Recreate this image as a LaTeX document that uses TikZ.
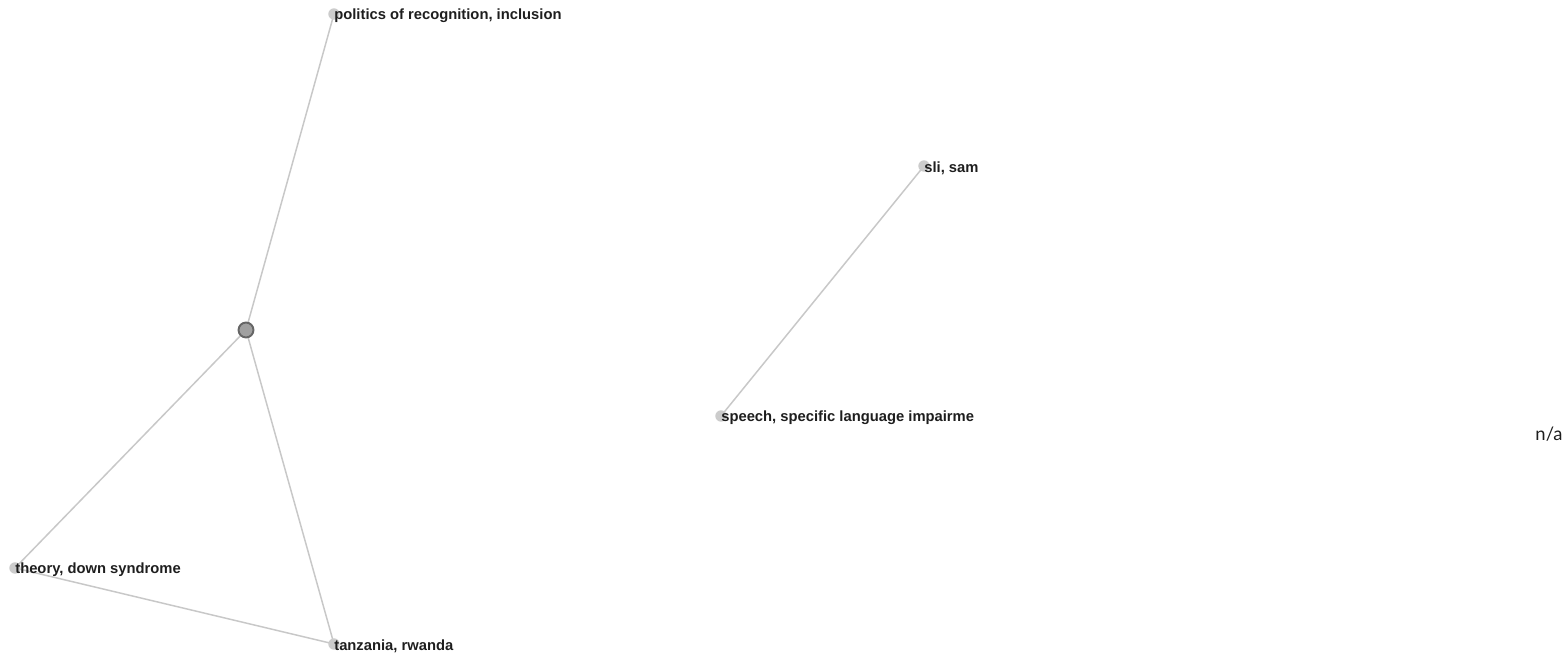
\documentclass[tikz,border=0pt]{standalone}
\usepackage{fontspec}
\setmainfont{Liberation Sans}
\newfontfamily\nafont{Lato}
\usepackage{xcolor}
\usepackage{tikz}
\usetikzlibrary{backgrounds}
\definecolor{edgegray}{HTML}{C8C8C8}
\definecolor{dotgray}{HTML}{CCCCCC}
\definecolor{hubfill}{HTML}{A0A0A0}
\definecolor{hubdraw}{HTML}{666666}
\definecolor{txtgray}{HTML}{1E1E1E}
\tikzset{
	term node/.style={circle,fill=dotgray,inner sep=0pt,minimum size=6.5pt},
	hub node/.style={circle,fill=hubfill,draw=hubdraw,line width=1.1pt,inner sep=0pt,minimum size=8.5pt},
	term label/.style={anchor=west,inner sep=0pt,text=txtgray,font=\fontsize{8.4}{10}\selectfont\bfseries,yshift=-0.04cm},
	link/.style={draw=edgegray,line width=0.85pt}
}

\begin{document}
\begin{tikzpicture}
	    \useasboundingbox (0,0) rectangle (31.34,-13.08);
	    % nodes
	    \node [hub node] (hub) at (4.92,-6.60) {};
	    \node [term node] (politics) at (6.68,-0.28) {};
	    \node [term node] (theory) at (0.30,-11.36) {};
	    \node [term node] (tanzania) at (6.68,-12.88) {};
	    \node [term node] (sli) at (18.48,-3.32) {};
	    \node [term node] (speech) at (14.42,-8.32) {};
	    % links
	    \begin{scope}[on background layer]
	    \path [link] (hub.center) -- (politics.center);
	    \path [link] (hub.center) -- (theory.center);
	    \path [link] (hub.center) -- (tanzania.center);
	    \path [link] (theory.center) -- (tanzania.center);
	    \path [link] (sli.center) -- (speech.center);
	    \end{scope}
	    % labels
	    \node [term label] (politics-txt) at (politics.center) {politics of recognition, inclusion};
	    \node [term label] (theory-txt) at (theory.center) {theory, down syndrome};
	    \node [term label] (tanzania-txt) at (tanzania.center) {tanzania, rwanda};
	    \node [term label] (sli-txt) at (sli.center) {sli, sam};
	    \node [term label] (speech-txt) at (speech.center) {speech, specific language impairme};
	    \node [font=\nafont\fontsize{10.5}{12}\selectfont,text=txtgray] (na) at (30.98,-8.68) {n/a};
\end{tikzpicture}
\end{document}
